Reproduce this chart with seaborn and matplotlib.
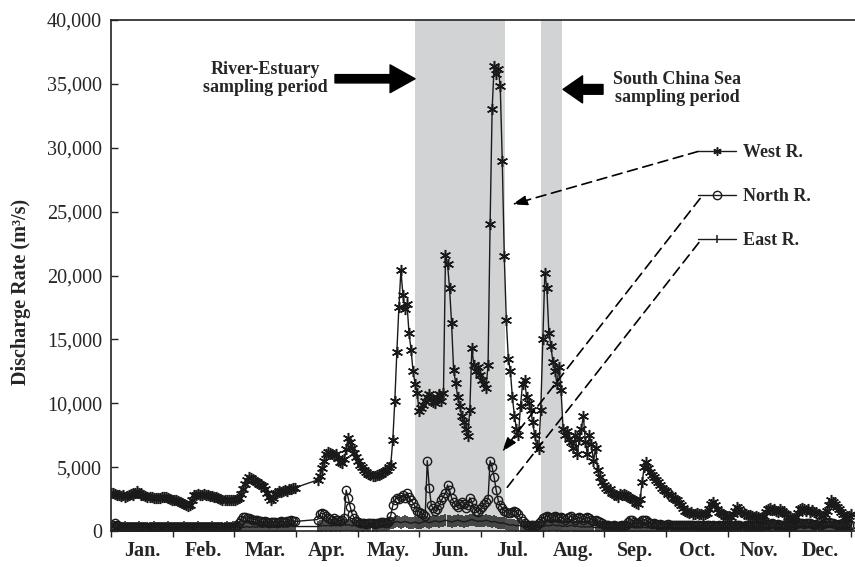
import matplotlib
matplotlib.use('Agg')
import matplotlib.pyplot as plt
import matplotlib.ticker as mticker
import pandas as pd
import seaborn as sns

# day of year (no records 92-101)
days = list(range(0, 92)) + list(range(102, 366))

west = [
    # Jan
    3000, 2950, 2900, 2850, 2800, 2750, 2800, 2700, 2750, 2800, 2900, 2850, 2950, 3150, 3000, 2850,
    2800, 2750, 2700, 2700, 2650, 2600, 2600, 2550, 2600, 2650, 2700, 2650, 2550, 2500, 2450,
    # Feb
    2450, 2400, 2350, 2300, 2200, 2100, 2050, 1950, 2000, 2400, 2800, 2850, 2900, 2850, 2800, 2900,
    2850, 2800, 2750, 2750, 2700, 2650, 2550, 2500, 2450, 2400, 2450, 2400,
    # Mar
    2450, 2400, 2450, 2500, 2600, 2900, 3300, 3700, 4000, 4200, 4150, 4000, 3900, 3800, 3700, 3600,
    3500, 3300, 3000, 2700, 2450, 2600, 2900, 3000, 3100, 3050, 3100, 3200, 3150, 3250, 3300, 3350, 3400,
    # Apr
    4000, 4300, 4900, 5500, 6000, 6200, 6100, 6000, 5900, 6000, 5700, 5400, 5300, 5600, 6400, 7300,
    7000, 6500, 6100, 5800,
    # May
    5500, 5200, 5000, 4800, 4600, 4500, 4400, 4300, 4300, 4350, 4400, 4500, 4600, 4700, 4800, 5000,
    5200, 7100, 10200, 14000, 17500, 20400, 18500, 17400, 17800, 15500, 14200, 12500, 11500, 10800, 9400,
    # Jun
    9600, 9900, 10200, 10500, 10700, 10300, 10100, 10000, 10500, 10700, 10200, 10800, 21600, 20900,
    19000, 16300, 12600, 11600, 10500, 9800, 9000, 8500, 8000, 7400, 9500, 14300, 13000, 12500, 12800,
    # Jul
    12200, 11800, 11500, 11200, 13000, 24000, 33000, 36400, 35800, 36200, 34800, 29000, 21500, 16500,
    13500, 12500, 10500, 9000, 8000, 7500, 9800, 11500, 11800, 10500, 10000, 9500, 8500, 7500, 6700,
    6400, 9500,
    # Aug
    15000, 20200, 19000, 15500, 14500, 13200, 12500, 11500, 12800, 11000, 8000, 7500, 7800, 7200, 7000,
    6500, 7500, 6000, 7200, 8000, 9000, 7000, 6000, 7500, 6800, 5500, 6500, 4800, 4200, 3800, 3600,
    # Sep
    3400, 3200, 3300, 3000, 2900, 2800, 2700, 2900, 2800, 2900, 2800, 2700, 2600, 2500, 2400, 2200,
    2100, 2500, 3800, 5000, 5400, 4900, 4600, 4400, 4200, 4000, 3800, 3600, 3400, 3200,
    # Oct
    3100, 2900, 2800, 2600, 2500, 2400, 2200, 2000, 1800, 1600, 1500, 1400, 1450, 1350, 1300, 1400,
    1350, 1300, 1250, 1350, 1400, 1700, 2100, 2300, 2000, 1700, 1500, 1400, 1300, 1200,
    # Nov
    1100, 1200, 1100, 1300, 1600, 1900, 1700, 1500, 1400, 1300, 1200, 1250, 1150, 1100, 1200, 1100,
    1000, 1100, 1200, 1500, 1700, 1800, 1650, 1700, 1600, 1500, 1700, 1550, 1400, 1300,
    # Dec
    1100, 1000, 1000, 1050, 1100, 1400, 1700, 1800, 1700, 1600, 1750, 1500, 1650, 1450, 1400, 1300,
    1200, 1200, 1300, 1600, 2000, 2400, 2300, 2100, 1900, 1700, 1500, 1300, 1100, 1000, 1200, 1300,
]

north = [
    # Jan
    300, 450, 600, 500, 400, 350, 350, 300, 300, 350, 350, 300, 300, 300, 350, 300,
    300, 300, 300, 350, 300, 300, 300, 350, 300, 300, 300, 300, 350, 300, 300,
    # Feb
    300, 300, 350, 300, 300, 300, 300, 350, 300, 300, 350, 300, 300, 300, 300, 350,
    300, 300, 300, 300, 350, 300, 300, 300, 300, 350, 300, 300,
    # Mar
    300, 300, 350, 400, 600, 900, 1100, 1100, 1000, 1000, 950, 900, 900, 850, 800, 750,
    700, 750, 700, 650, 700, 700, 700, 650, 700, 750, 700, 700, 750, 800, 850, 800, 750,
    # Apr
    900, 1300, 1400, 1350, 1200, 1000, 950, 900, 1000, 900, 850, 800, 900, 1000, 3200, 2600,
    1900, 1300, 1000, 800,
    # May
    700, 650, 600, 600, 550, 600, 650, 600, 550, 600, 650, 700, 700, 650, 600, 800,
    1200, 2000, 2400, 2600, 2500, 2700, 2800, 2600, 3000, 2700, 2400, 2200, 1900, 1600, 1500,
    # Jun
    1400, 1300, 1200, 5500, 3400, 2000, 1800, 1600, 1700, 2000, 2400, 2700, 3000, 3600, 3200,
    2600, 2300, 2000, 1900, 2100, 2300, 2100, 1800, 2000, 2600, 2300, 1800, 1600, 1500,
    # Jul
    1700, 1900, 2100, 2300, 2500, 5500, 5000, 4200, 3200, 2400, 2000, 1800, 1600, 1500, 1400,
    1400, 1500, 1600, 1500, 1300, 1000, 800, 600, 500, 400, 500, 450, 400, 500, 600, 800,
    # Aug
    1000, 1100, 1200, 1100, 1000, 1100, 1200, 1100, 1000, 1100, 1000, 900, 1000, 1100, 1200,
    1000, 900, 1000, 1100, 1000, 900, 1000, 1100, 1000, 900, 800, 900, 800, 700, 600, 500,
    # Sep
    500, 450, 400, 400, 450, 400, 400, 400, 450, 400, 500, 700, 900, 850, 700,
    600, 650, 700, 850, 900, 850, 700, 600, 550, 600, 550, 500, 550, 500, 500,
    # Oct
    500, 550, 500, 500, 450, 500, 500, 450, 500, 450, 450, 500, 450, 450, 400,
    450, 450, 400, 450, 400, 450, 450, 400, 450, 400, 400, 450, 400, 450, 400,
    # Nov
    400, 450, 400, 400, 450, 500, 450, 400, 400, 450, 400, 400, 450, 400, 400,
    450, 400, 450, 500, 550, 500, 550, 600, 550, 500, 550, 500, 450, 500, 450,
    # Dec
    450, 400, 450, 500, 550, 600, 650, 600, 550, 600, 650, 600, 550, 500, 550, 500,
    500, 550, 600, 650, 700, 650, 600, 550, 500, 550, 500, 450, 500, 550, 500, 450,
]

east = [
    # Jan
    250, 300, 250, 250, 200, 250, 250, 300, 250, 250, 250, 200, 250, 250, 300, 250,
    250, 250, 200, 250, 250, 300, 250, 250, 250, 200, 250, 250, 300, 250, 250,
    # Feb
    250, 250, 200, 250, 250, 300, 250, 250, 250, 200, 250, 250, 300, 250,
    250, 250, 200, 250, 250, 300, 250, 250, 250, 200, 250, 250, 300, 250,
    # Mar
    250, 300, 300, 350, 300, 350, 300, 300, 350, 300, 300, 350, 300, 300, 350, 300,
    300, 350, 300, 300, 350, 300, 300, 350, 300, 350, 300, 350, 300, 350, 400, 350, 350,
    # Apr
    350, 400, 400, 450, 400, 450, 400, 400, 450, 400, 450, 400, 450, 500, 450, 500,
    450, 400, 450, 400,
    # May
    400, 450, 400, 400, 450, 400, 450, 400, 450, 400, 450, 500, 450, 500, 500, 550,
    600, 650, 700, 750, 700, 650, 700, 750, 700, 650, 600, 650, 700, 650, 600,
    # Jun
    650, 700, 750, 700, 650, 700, 750, 800, 750, 700, 750, 800, 850, 800, 750,
    700, 750, 800, 850, 800, 750, 700, 750, 800, 850, 900, 850, 800, 750,
    # Jul
    800, 750, 800, 850, 800, 750, 700, 750, 700, 650, 600, 650, 600, 550, 500,
    450, 500, 450, 400, 450, 400, 350, 400, 350, 300, 350, 300, 350, 300, 350, 300,
    # Aug
    350, 400, 450, 400, 450, 500, 450, 400, 450, 400, 350, 400, 350, 400, 450,
    400, 350, 400, 350, 300, 350, 300, 350, 300, 350, 300, 250, 300, 250, 300, 250,
    # Sep
    250, 300, 250, 250, 300, 250, 250, 300, 250, 250, 300, 250, 250, 300, 250,
    250, 300, 250, 250, 300, 250, 250, 300, 250, 250, 300, 250, 250, 300, 250,
    # Oct
    300, 250, 300, 250, 250, 300, 250, 300, 250, 250, 300, 250, 300, 250, 250,
    300, 250, 300, 250, 250, 300, 250, 300, 250, 250, 300, 250, 300, 250, 250,
    # Nov
    250, 300, 300, 250, 300, 250, 300, 300, 250, 300, 250, 300, 300, 250, 300,
    250, 300, 300, 250, 300, 250, 300, 300, 250, 300, 250, 300, 300, 250, 300,
    # Dec
    300, 350, 300, 300, 350, 300, 350, 300, 300, 350, 300, 350, 300, 300, 350, 300,
    350, 300, 300, 350, 300, 350, 300, 300, 350, 300, 350, 300, 300, 350, 300, 300,
]

months = ['Jan.', 'Feb.', 'Mar.', 'Apr.', 'May.', 'Jun.',
          'Jul.', 'Aug.', 'Sep.', 'Oct.', 'Nov.', 'Dec.']

# sampling periods (day of year)
estuary_period = (150, 194.4)
scs_period = (212.1, 222.5)

sns.set_style('ticks')
plt.rcParams['font.family'] = ['Liberation Serif', 'DejaVu Serif']

df = pd.DataFrame({'day': days, 'West R.': west, 'North R.': north, 'East R.': east})

fig = plt.figure(figsize=(8.55, 5.67), dpi=100)
ax = fig.add_axes([111 / 855, 36 / 567, 744 / 855, 511 / 567])

shade = '#d1d3d4'
ax.axvspan(*estuary_period, color=shade, lw=0, zorder=0)
ax.axvspan(*scs_period, color=shade, lw=0, zorder=0)

ink = '#1a1a1a'
kw = dict(color=ink, lw=1.0, estimator=None, sort=False, markeredgecolor=ink)
sns.lineplot(data=df, x='day', y='West R.', ax=ax, marker=(6, 2, 0), markersize=8,
             markeredgewidth=1.1, label='West R.', **kw)
sns.lineplot(data=df, x='day', y='North R.', ax=ax, marker='o', markersize=6,
             markerfacecolor='none', markeredgewidth=1.0, label='North R.', **kw)
sns.lineplot(data=df, x='day', y='East R.', ax=ax, marker='|', markersize=8,
             markeredgewidth=1.1, label='East R.', **kw)

# axes
ax.set_xlim(0, 367)
ax.set_ylim(0, 40000)
ax.yaxis.set_major_locator(mticker.MultipleLocator(5000))
ax.yaxis.set_major_formatter(mticker.StrMethodFormatter('{x:,.0f}'))
edges = [i * 365 / 12 for i in range(13)]
mids = [(i + 0.5) * 365 / 12 for i in range(12)]
ax.set_xticks(edges)
ax.set_xticklabels([''] * 13)
ax.set_xticks(mids, minor=True)
ax.set_xticklabels(months, minor=True, fontweight='bold', fontsize=14.5)
ax.tick_params(axis='x', which='major', direction='out', length=4, width=1, color='#222')
ax.tick_params(axis='x', which='minor', length=0, pad=7)
ax.tick_params(axis='y', direction='in', length=5, width=1, color='#222', pad=6.5, labelsize=14.5)
ax.set_xlabel('')
ax.set_ylabel('Discharge Rate (m³/s)', fontsize=14.5, fontweight='bold')
ax.yaxis.set_label_coords(-0.108, 0.468)
for s in ['left', 'bottom', 'top']:
    ax.spines[s].set_linewidth(1.2)
    ax.spines[s].set_color('#222')
ax.spines['right'].set_visible(False)
ax.grid(False)

# legend
leg = ax.legend(loc='upper left', bbox_to_anchor=(0.789, 0.757), frameon=False, borderpad=0,
                borderaxespad=0, handlelength=2.1, handletextpad=0.4, labelspacing=1.5,
                prop=dict(family='Liberation Serif', weight='bold', size=13))
for h in leg.legend_handles:
    h.set_markersize(6)

# sampling period notes
txt = dict(fontsize=13, fontweight='bold', linespacing=1.1, va='center', ha='center',
           multialignment='center')
ax.text(76, 35420, 'River-Estuary\nsampling period', **txt)
ax.text(279.2, 34630, 'South China Sea\nsampling period', **txt)
ax.annotate('', xy=(150, 35400), xytext=(110.5, 35400),
            arrowprops=dict(width=6, headwidth=20, headlength=18, color='k', shrink=0))
ax.annotate('', xy=(223, 34570), xytext=(242.7, 34570),
            arrowprops=dict(width=7, headwidth=19.5, headlength=14, color='k', shrink=0))

# dashed leaders from legend
dash = (0, (6, 3.5))
ax.annotate('', xy=(197.8, 25560), xytext=(289.6, 29710),
            arrowprops=dict(arrowstyle='-|>,head_length=0.9,head_width=0.3', linestyle=dash,
                            color='k', lw=1.2, shrinkA=0, shrinkB=0))
ax.annotate('', xy=(192.9, 6190), xytext=(290.6, 26030),
            arrowprops=dict(arrowstyle='-|>,head_length=0.9,head_width=0.3', linestyle=dash,
                            color='k', lw=1.2, shrinkA=0, shrinkB=0))
ax.annotate('', xy=(194.4, 3210), xytext=(290, 22580),
            arrowprops=dict(arrowstyle='-', linestyle=dash, color='k', lw=1.2,
                            shrinkA=0, shrinkB=0))

fig.savefig('out.png', dpi=100)
